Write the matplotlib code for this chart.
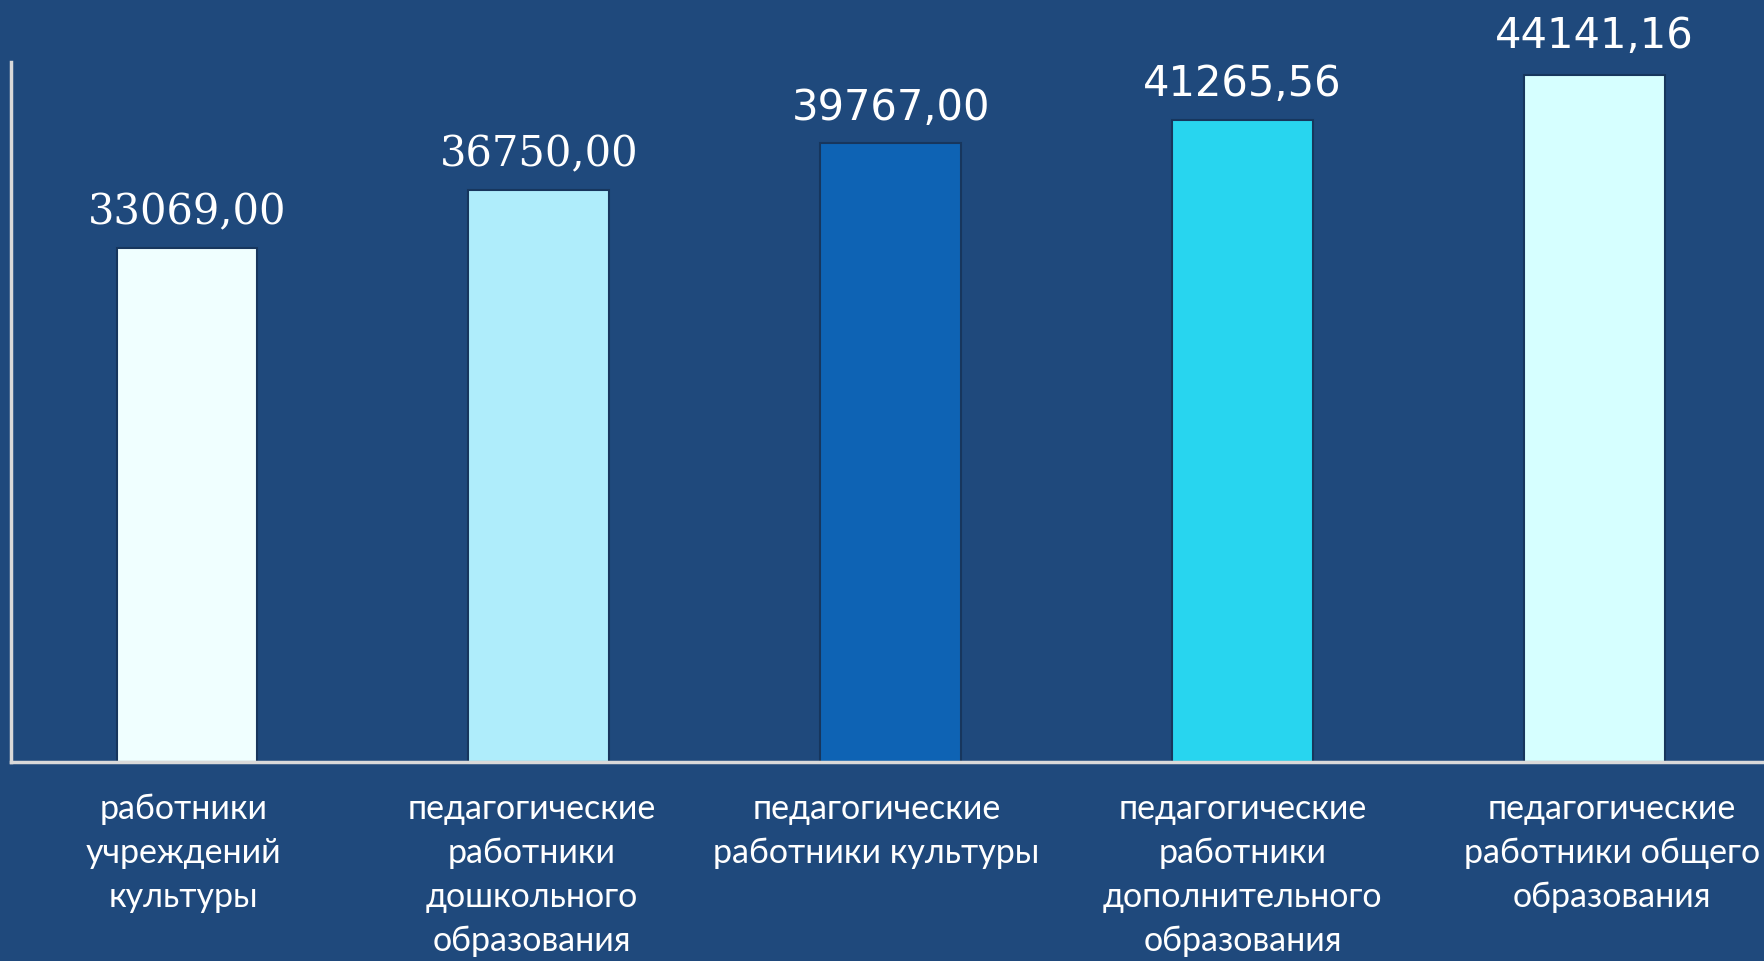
import matplotlib
matplotlib.use('Agg')
import matplotlib.pyplot as plt

# data
categories = ['работники\nучреждений\nкультуры',
              'педагогические\nработники\nдошкольного\nобразования',
              'педагогические\nработники культуры',
              'педагогические\nработники\nдополнительного\nобразования',
              'педагогические\nработники общего\nобразования']
values = [33069.00, 36750.00, 39767.00, 41265.56, 44141.16]
value_labels = ['33069,00', '36750,00', '39767,00', '41265,56', '44141,16']

# style
BG = '#1F497C'
bar_colors = ['#F0FFFF', '#AFEDFB', '#0E63B4', '#28D5EF', '#D6FFFF']
value_fonts = ['DejaVu Serif', 'DejaVu Serif', 'DejaVu Sans', 'DejaVu Sans', 'DejaVu Sans']
value_dy = [17, 17, 17, 17, 20]
label_dx = [-0.01, -0.02, -0.04, 0.0, 0.05]   # small nudges of the category labels

fig = plt.figure(figsize=(17.65, 9.61), dpi=100, facecolor=BG)
ax = fig.add_axes([11/1765, 1 - 762/961, 1 - 11/1765, 700/961])
ax.set_facecolor(BG)

x = list(range(len(values)))
bars = ax.bar(x, values, width=0.4, color=bar_colors,
              edgecolor='#17365D', linewidth=1.5, zorder=2)

ax.set_xlim(-0.5, 4.485)
ax.set_ylim(0, 45000)

for i, b in enumerate(bars):
    ax.annotate(value_labels[i], (b.get_x() + b.get_width()/2, b.get_height()),
                xytext=(0, value_dy[i]), textcoords='offset points',
                ha='center', va='baseline', fontsize=30, color='white',
                family=value_fonts[i], annotation_clip=False)

for i, lab in enumerate(categories):
    ax.text(x[i] + label_dx[i], -0.044, lab, transform=ax.get_xaxis_transform(),
            ha='center', va='top', fontsize=24.5, color='white',
            family='Lato', linespacing=1.47)

ax.set_xticks([])
ax.set_yticks([])
for s in ['top', 'right']:
    ax.spines[s].set_visible(False)
for s in ['left', 'bottom']:
    ax.spines[s].set_color('#D9D9D9')
    ax.spines[s].set_linewidth(2.5)

fig.savefig('out.png', dpi=100, facecolor=BG)
